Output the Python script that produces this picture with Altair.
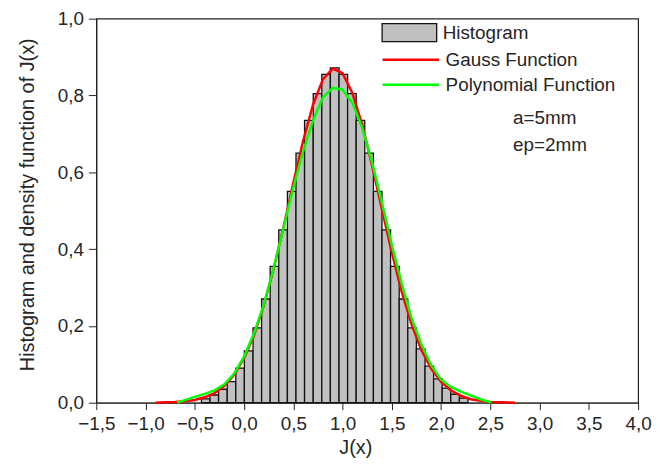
import altair as alt
import pandas as pd

# Histogram bins
bin_left = [-0.433, -0.346, -0.259, -0.171, -0.084, 0.003, 0.091, 0.178, 0.265, 0.352,
            0.440, 0.527, 0.614, 0.702, 0.789, 0.876, 0.964, 1.051, 1.138, 1.225,
            1.313, 1.400, 1.487, 1.575, 1.662, 1.749, 1.837, 1.924, 2.011, 2.098, 2.186]
bin_right = [-0.346, -0.259, -0.171, -0.084, 0.003, 0.091, 0.178, 0.265, 0.352, 0.440,
             0.527, 0.614, 0.702, 0.789, 0.876, 0.964, 1.051, 1.138, 1.225, 1.313,
             1.400, 1.487, 1.575, 1.662, 1.749, 1.837, 1.924, 2.011, 2.098, 2.186, 2.273]
bin_height = [0.010, 0.020, 0.035, 0.055, 0.090, 0.135, 0.195, 0.270, 0.355, 0.450,
              0.550, 0.650, 0.735, 0.805, 0.855, 0.872, 0.855, 0.805, 0.735, 0.650,
              0.550, 0.450, 0.355, 0.270, 0.195, 0.140, 0.095, 0.062, 0.038, 0.022, 0.012]

# Gauss function curve
gauss_x = [-0.9, -0.8, -0.7, -0.6, -0.5, -0.4, -0.3, -0.2, -0.1, 0.0, 0.1, 0.2, 0.3, 0.4,
           0.5, 0.6, 0.7, 0.8, 0.9, 1.0, 1.1, 1.2, 1.3, 1.4, 1.5, 1.6, 1.7, 1.8, 1.9,
           2.0, 2.1, 2.2, 2.3, 2.4, 2.5, 2.6, 2.75]
gauss_y = [0.000, 0.001, 0.002, 0.004, 0.007, 0.014, 0.025, 0.044, 0.073, 0.116, 0.175,
           0.253, 0.348, 0.457, 0.572, 0.682, 0.776, 0.842, 0.870, 0.858, 0.806, 0.723,
           0.617, 0.503, 0.391, 0.289, 0.204, 0.137, 0.088, 0.054, 0.032, 0.018, 0.009,
           0.005, 0.002, 0.001, 0.000]

# Polynomial function curve
poly_x = [-0.68, -0.5, -0.4, -0.3, -0.2, -0.1, 0.0, 0.1, 0.2, 0.3, 0.4, 0.5, 0.6, 0.7,
          0.8, 0.9, 1.0, 1.1, 1.2, 1.3, 1.4, 1.5, 1.6, 1.7, 1.8, 1.9, 2.0, 2.1, 2.2,
          2.3, 2.4, 2.51]
poly_y = [0.000, 0.015, 0.023, 0.032, 0.048, 0.076, 0.120, 0.180, 0.255, 0.350, 0.455,
          0.560, 0.655, 0.735, 0.795, 0.820, 0.815, 0.780, 0.715, 0.625, 0.520, 0.410,
          0.310, 0.220, 0.152, 0.097, 0.060, 0.041, 0.029, 0.019, 0.009, 0.000]

annot_text = ["a=5mm", "ep=2mm"]
annot_x = [2.73, 2.73]
annot_y = [0.742, 0.670]

x_ticks = [-1.5, -1.25, -1.0, -0.75, -0.5, -0.25, 0.0, 0.25, 0.5, 0.75, 1.0, 1.25, 1.5,
           1.75, 2.0, 2.25, 2.5, 2.75, 3.0, 3.25, 3.5, 3.75, 4.0]
y_ticks = [0.0, 0.1, 0.2, 0.3, 0.4, 0.5, 0.6, 0.7, 0.8, 0.9, 1.0]

FONT = "Liberation Sans"
TXT = "#262626"

hist_df = pd.DataFrame({"x0": bin_left, "x1": bin_right, "h": bin_height,
                        "series": ["Histogram"] * len(bin_left)})
gauss_df = pd.DataFrame({"x": gauss_x, "y": gauss_y, "series": "Gauss Function",
                         "o": range(len(gauss_x))})
poly_df = pd.DataFrame({"x": poly_x, "y": poly_y, "series": "Polynomial Function",
                        "o": range(len(poly_x))})
annot_df = pd.DataFrame({"t": annot_text, "x": annot_x, "y": annot_y})

xscale = alt.Scale(domain=[-1.5, 4.0], nice=False, zero=False)
yscale = alt.Scale(domain=[0, 1.0], nice=False)

xaxis = alt.Axis(
    title="J(x)", values=x_ticks,
    labelExpr="abs(round(datum.value*4)) % 2 == 0 ? replace(format(datum.value, '.1f'), '.', ',') : ''",
    labelOverlap=False, labelFlush=False, grid=False,
    tickSize=7, tickColor="#222", domainColor="#222", labelPadding=5,
    labelFont=FONT, labelFontSize=19, labelColor=TXT,
    titleFont=FONT, titleFontSize=20, titleFontWeight="normal", titleColor=TXT,
    titleX=261, titleY=51, titleAlign="center", titleBaseline="alphabetic",
)
yaxis = alt.Axis(
    title="Histogram and density function of J(x)", values=y_ticks,
    labelExpr="round(datum.value*10) % 2 == 0 ? replace(format(datum.value, '.1f'), '.', ',') : ''",
    labelOverlap=False, labelFlush=False, grid=False,
    tickSize=8, tickColor="#222", domainColor="#222", labelPadding=5,
    labelFont=FONT, labelFontSize=19, labelColor=TXT,
    titleFont=FONT, titleFontSize=20, titleFontWeight="normal", titleColor=TXT,
    titleAngle=270, titleX=-69, titleY=187, titleAlign="center", titleBaseline="middle",
)


def line_legend(y):
    return alt.Legend(title=None, orient="none", legendX=287, legendY=y,
                      symbolType="stroke", symbolSize=3249, symbolStrokeWidth=2.5,
                      padding=0, labelLimit=300, labelFont=FONT, labelFontSize=19,
                      labelColor=TXT, labelOffset=5)


bars = alt.Chart(hist_df).mark_bar(stroke="#111111", strokeWidth=1.3).encode(
    x=alt.X("x0:Q", scale=xscale, axis=xaxis),
    x2="x1:Q",
    y=alt.Y("h:Q", scale=yscale, axis=yaxis),
    y2=alt.datum(0),
    fill=alt.Fill("series:N", scale=alt.Scale(domain=["Histogram"], range=["#c0c0c0"]),
                  legend=alt.Legend(title=None, orient="none", legendX=287, legendY=-14.5,
                                    symbolType="M-1,-0.33H1V0.33H-1Z", symbolSize=3025,
                                    symbolStrokeColor="#111111", symbolStrokeWidth=1.3,
                                    symbolFillColor="#c0c0c0", padding=0, labelLimit=300,
                                    labelFont=FONT, labelFontSize=19, labelColor=TXT,
                                    labelOffset=5)),
)

gauss_line = alt.Chart(gauss_df).mark_line(strokeWidth=2.5).encode(
    x=alt.X("x:Q", scale=xscale),
    y=alt.Y("y:Q", scale=yscale),
    order="o:Q",
    stroke=alt.Stroke("series:N",
                      scale=alt.Scale(domain=["Gauss Function"], range=["#ff0000"]),
                      legend=line_legend(11.5)),
)

poly_line = alt.Chart(poly_df).mark_line(strokeWidth=2.5).encode(
    x=alt.X("x:Q", scale=xscale),
    y=alt.Y("y:Q", scale=yscale),
    order="o:Q",
    color=alt.Color("series:N",
                    scale=alt.Scale(domain=["Polynomial Function"], range=["#00ff00"]),
                    legend=line_legend(36.5)),
)

annots = alt.Chart(annot_df).mark_text(align="left", baseline="middle", font=FONT,
                                       fontSize=19, color=TXT).encode(
    x=alt.X("x:Q", scale=xscale),
    y=alt.Y("y:Q", scale=yscale),
    text="t:N",
)

chart = alt.layer(bars, gauss_line, poly_line, annots).resolve_scale(
    fill="independent", stroke="independent", color="independent"
).properties(
    width=546, height=387,
    autosize=alt.AutoSizeParams(type="none"),
    padding={"left": 89, "top": 9, "right": 14, "bottom": 54},
).configure_view(stroke="#222", strokeWidth=1.2)

chart.save("out.html", embed_options={"renderer": "svg", "actions": False})
